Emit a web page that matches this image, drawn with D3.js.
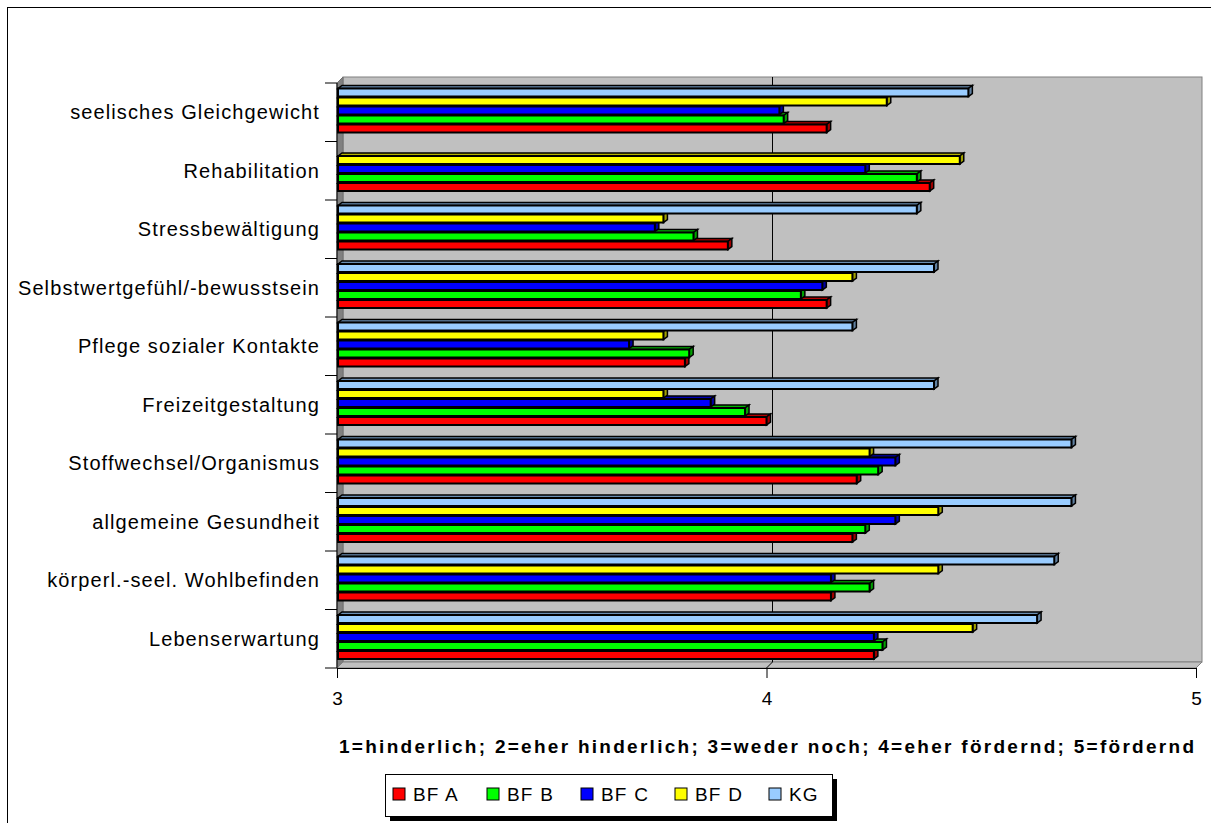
<!DOCTYPE html>
<html>
<head>
<meta charset="utf-8">
<script src="https://cdn.jsdelivr.net/npm/d3@7"></script>
<style>
  body { margin: 0; background: #fff; }
  svg { display: block; font-family: "Liberation Sans", Arial, sans-serif; }
</style>
</head>
<body>
<script>
const width = 1211;
const height = 823;

// categories, top to bottom as shown
const categories = ['seelisches Gleichgewicht', 'Rehabilitation', 'Stressbewältigung',
  'Selbstwertgefühl/-bewusstsein', 'Pflege sozialer Kontakte', 'Freizeitgestaltung',
  'Stoffwechsel/Organismus', 'allgemeine Gesundheit', 'körperl.-seel. Wohlbefinden',
  'Lebenserwartung'];

const bfA = [4.14, 4.38, 3.91, 4.14, 3.81, 4.00, 4.21, 4.20, 4.15, 4.25];
const bfB = [4.04, 4.35, 3.83, 4.08, 3.82, 3.95, 4.26, 4.23, 4.24, 4.27];
const bfC = [4.03, 4.23, 3.74, 4.13, 3.68, 3.87, 4.30, 4.30, 4.15, 4.25];
const bfD = [4.28, 4.45, 3.76, 4.20, 3.76, 3.76, 4.24, 4.40, 4.40, 4.48];
const kg  = [4.47, null, 4.35, 4.39, 4.20, 4.39, 4.71, 4.71, 4.67, 4.63];

const seriesNames = ['BF A', 'BF B', 'BF C', 'BF D', 'KG'];
const seriesValues = [bfA, bfB, bfC, bfD, kg];
const seriesColors = ['#ff0000', '#00ff00', '#0000ff', '#ffff00', '#99ccff'];

const xTicks = [3, 4, 5];
const axisTitle = '1=hinderlich; 2=eher hinderlich; 3=weder noch; 4=eher fördernd; 5=fördernd';

const svg = d3.select('body').append('svg')
  .attr('width', width)
  .attr('height', height);

// chart border
svg.append('rect')
  .attr('x', 7.5).attr('y', 7.5)
  .attr('width', 1220).attr('height', 830)
  .attr('fill', '#fff').attr('stroke', '#000');

const x = d3.scaleLinear().domain([3, 5]).range([337, 1196]);
const y = d3.scaleBand().domain(categories).range([83, 668]);
// inside a category: KG on top, BF A at the bottom
const sub = d3.scaleBand().domain(seriesNames.slice().reverse()).range([0, 45]);

const dx = 6, dy = 6;     // wall depth
const bx = 4, by = 3;     // bar depth

const pLeft = x.range()[0], pRight = x.range()[1];
const pTop = y.range()[0], pBottom = y.range()[1];

// walls
svg.append('rect')
  .attr('x', pLeft + dx).attr('y', pTop - dy)
  .attr('width', pRight - pLeft).attr('height', pBottom - pTop)
  .attr('fill', '#c0c0c0').attr('stroke', '#808080');

svg.append('polygon')
  .attr('points', [[pLeft, pTop], [pLeft + dx, pTop - dy], [pLeft + dx, pBottom - dy], [pLeft, pBottom]].join(' '))
  .attr('fill', '#808080').attr('stroke', '#707070');

svg.append('polygon')
  .attr('points', [[pLeft, pBottom], [pLeft + dx, pBottom - dy], [pRight + dx, pBottom - dy], [pRight, pBottom]].join(' '))
  .attr('fill', '#c0c0c0').attr('stroke', '#808080');

// gridline at 4
svg.append('polyline')
  .attr('points', [[x(4) + dx, pTop - dy], [x(4) + dx, pBottom - dy], [x(4), pBottom]].join(' '))
  .attr('fill', 'none').attr('stroke', '#000').attr('stroke-width', 1);

// bars
const g = svg.append('g');
categories.forEach((cat, ci) => {
  for (let si = 0; si < seriesNames.length; si++) {
    const v = seriesValues[si][ci];
    if (v == null) continue;
    const col = d3.color(seriesColors[si]);
    const x0 = x(3) + 1;
    const x1 = x(v);
    const yy = y(cat) + 5.5 + sub(seriesNames[si]);
    const h = 8;
    // top face
    g.append('polygon')
      .attr('points', [[x0, yy], [x0 + bx, yy - by], [x1 + bx, yy - by], [x1, yy]].join(' '))
      .attr('fill', col.darker(1)).attr('stroke', '#000').attr('stroke-width', 1.5);
    // side face
    g.append('polygon')
      .attr('points', [[x1, yy], [x1 + bx, yy - by], [x1 + bx, yy + h - by], [x1, yy + h]].join(' '))
      .attr('fill', col.darker(1.3)).attr('stroke', '#000').attr('stroke-width', 1.5);
    // front face
    g.append('rect')
      .attr('x', x0).attr('y', yy)
      .attr('width', x1 - x0).attr('height', h)
      .attr('fill', col).attr('stroke', '#000').attr('stroke-width', 2);
  }
});

// category axis
svg.append('line')
  .attr('x1', pLeft).attr('x2', pLeft).attr('y1', pTop).attr('y2', pBottom)
  .attr('stroke', '#000');

const bounds = categories.map(c => y(c)).concat([pBottom]);
svg.selectAll('.ctick').data(bounds).enter().append('line')
  .attr('x1', pLeft - 12).attr('x2', pLeft)
  .attr('y1', d => d).attr('y2', d => d)
  .attr('stroke', '#000');

svg.selectAll('.clabel').data(categories).enter().append('text')
  .attr('x', 320)
  .attr('y', d => y(d) + y.bandwidth() / 2 + 7)
  .attr('text-anchor', 'end')
  .attr('font-size', 20)
  .attr('letter-spacing', 1.1)
  .attr('fill', '#000')
  .text(d => d);

// value axis
const xAxis = svg.append('g')
  .attr('transform', `translate(0,${pBottom})`)
  .call(d3.axisBottom(x).tickValues(xTicks).tickSize(10).tickSizeOuter(0).tickPadding(14).tickFormat(d3.format('d')));
xAxis.select('.domain').attr('stroke', '#000');
xAxis.selectAll('.tick line').attr('stroke', '#000');
xAxis.selectAll('.tick text')
  .attr('font-size', 19)
  .attr('font-family', '"Liberation Sans", Arial, sans-serif')
  .attr('fill', '#000');

svg.append('text')
  .attr('x', (pLeft + pRight) / 2)
  .attr('y', 753)
  .attr('text-anchor', 'middle')
  .attr('font-size', 19)
  .attr('font-weight', 'bold')
  .attr('textLength', 855)
  .attr('lengthAdjust', 'spacing')
  .attr('fill', '#000')
  .text(axisTitle);

// legend
const lg = svg.append('g').attr('transform', 'translate(385,774)');
lg.append('rect').attr('x', 5).attr('y', 5).attr('width', 447).attr('height', 42).attr('fill', '#000');
lg.append('rect').attr('x', 0.5).attr('y', 0.5).attr('width', 447).attr('height', 42)
  .attr('fill', '#fff').attr('stroke', '#000');

const items = lg.selectAll('.item').data(seriesNames).enter().append('g')
  .attr('transform', (d, i) => `translate(${8 + i * 94},14)`);
items.append('rect')
  .attr('width', 12).attr('height', 12)
  .attr('fill', (d, i) => seriesColors[i])
  .attr('stroke', '#000');
items.append('text')
  .attr('x', 20).attr('y', 12.5)
  .attr('font-size', 19)
  .attr('letter-spacing', 1.2)
  .attr('fill', '#000')
  .text(d => d);
</script>
</body>
</html>
